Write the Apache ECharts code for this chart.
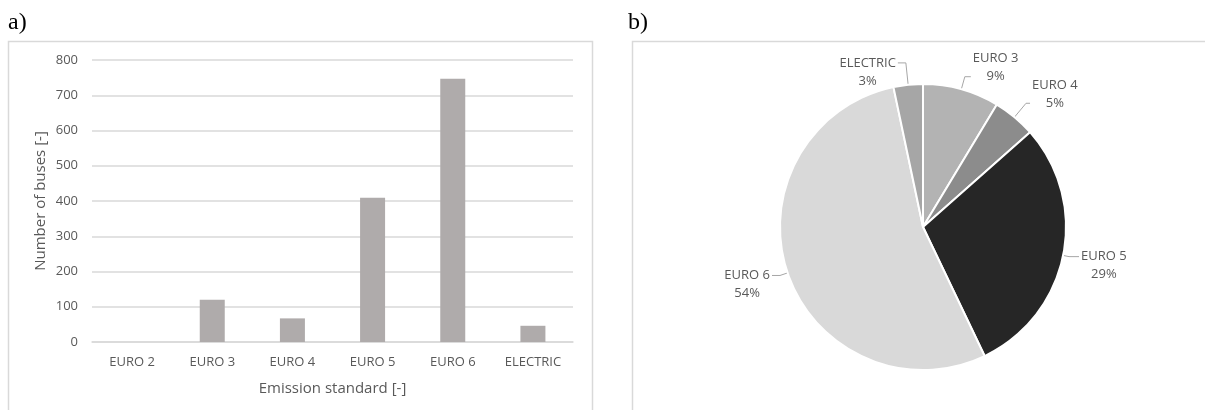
<!DOCTYPE html>
<html>
<head>
<meta charset="utf-8">
<script src="https://cdn.jsdelivr.net/npm/echarts@6/dist/echarts.min.js"></script>
<style>
  html, body { margin: 0; padding: 0; background: #fff; }
  #main { width: 1205px; height: 410px; }
</style>
</head>
<body>
<div id="main"></div>
<script>
// emission standards and bus counts
const categories = ['EURO 2', 'EURO 3', 'EURO 4', 'EURO 5', 'EURO 6', 'ELECTRIC']
const buses = [0, 120, 67, 409, 747, 46]
const yTicks = [0, 100, 200, 300, 400, 500, 600, 700, 800]

// pie slice colours, same order as categories
const sliceColors = ['#7f7f7f', '#b3b3b3', '#8c8c8c', '#262626', '#d9d9d9', '#a6a6a6']

const textColor = '#595959'
const font = 'Open Sans'

// leader lines as Excel drew them: [first segment, second segment, hooks onto line 1 or 2]
const leaders = {
  'EURO 3': [13, 6, 2],
  'EURO 4': [18, 4, 2],
  'EURO 5': [6, 10, 1],
  'EURO 6': [8, 8, 1],
  'ELECTRIC': [22, 8, 1]
}

// pie leaves out the zero category like Excel does
const pieData = categories
  .map((name, i) => ({ name: name, value: buses[i], itemStyle: { color: sliceColors[i] } }))
  .filter(d => d.value > 0)
  .map(d => {
    const l = leaders[d.name]
    d.labelLine = { length: l[0], length2: l[1] }
    d.label = { padding: l[2] === 1 ? [18, 0, 0, 0] : [0, 0, 18, 0] }
    return d
  })

const chart = echarts.init(document.getElementById('main'))

chart.setOption({
  animation: false,
  graphic: [
    { type: 'rect', shape: { x: 8.5, y: 41.5, width: 584, height: 420 }, style: { fill: 'none', stroke: '#d9d9d9', lineWidth: 1.5 } },
    { type: 'rect', shape: { x: 632.5, y: 41.5, width: 620, height: 420 }, style: { fill: 'none', stroke: '#d9d9d9', lineWidth: 1.5 } },
    { type: 'text', left: 8, top: 11, style: { text: 'a)', font: '24px "Liberation Serif"', fill: '#000' } },
    { type: 'text', left: 628, top: 11, style: { text: 'b)', font: '24px "Liberation Serif"', fill: '#000' } }
  ],
  grid: { left: 92, right: 632, top: 60, bottom: 68 },
  xAxis: {
    type: 'category',
    data: categories,
    name: 'Emission standard [-]',
    nameLocation: 'middle',
    nameGap: 39,
    nameTextStyle: { color: textColor, fontFamily: font, fontSize: 15 },
    axisLine: { lineStyle: { color: '#d9d9d9', width: 1.5 } },
    axisTick: { show: false },
    axisLabel: { color: textColor, fontFamily: font, fontSize: 13, margin: 14 }
  },
  yAxis: {
    type: 'value',
    min: yTicks[0],
    max: yTicks[yTicks.length - 1],
    interval: 100,
    name: 'Number of buses [-]',
    nameLocation: 'middle',
    nameGap: 44,
    nameTextStyle: { color: textColor, fontFamily: font, fontSize: 15 },
    axisLine: { show: false },
    axisTick: { show: false },
    axisLabel: { color: textColor, fontFamily: font, fontSize: 13, margin: 14 },
    splitLine: { lineStyle: { color: '#d9d9d9', width: 1.5 } }
  },
  series: [
    {
      type: 'bar',
      data: buses,
      barWidth: 25,
      itemStyle: { color: '#afabab' }
    },
    {
      type: 'pie',
      center: [923, 227],
      radius: 143,
      startAngle: 90,
      clockwise: true,
      avoidLabelOverlap: false,
      data: pieData,
      itemStyle: { borderColor: '#fff', borderWidth: 2 },
      label: {
        color: textColor,
        fontFamily: font,
        fontSize: 13,
        distanceToLabelLine: 2,
        formatter: p => '{t|' + p.name + '}\n{t|' + Math.round(p.percent) + '%}',
        rich: {
          t: { color: textColor, fontFamily: font, fontSize: 13, lineHeight: 18, align: 'center' }
        }
      },
      labelLine: {
        lineStyle: { color: '#a6a6a6', width: 1 }
      }
    }
  ]
})
</script>
</body>
</html>
